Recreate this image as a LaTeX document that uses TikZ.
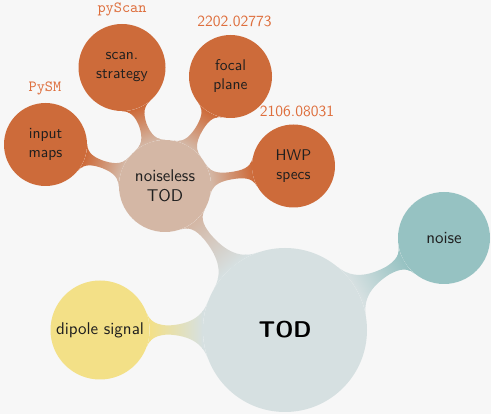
\documentclass[tikz,border=0pt]{standalone}
\usepackage{fontspec}
\setsansfont{lmsans10}[Extension=.otf, UprightFont=*-regular, BoldFont=*-bold]
\setmonofont{lmmono10-regular.otf}
\usetikzlibrary{mindmap}
\definecolor{bg}{HTML}{F7F7F7}
\definecolor{todblue}{HTML}{D6E0E1}
\definecolor{noiseteal}{HTML}{96C2C2}
\definecolor{dipoleyellow}{HTML}{F3E087}
\definecolor{nltan}{HTML}{D4B7A5}
\definecolor{ingorange}{HTML}{CD6B3A}
\definecolor{refcol}{HTML}{DE6E3C}
\tikzset{
  bubble/.style={circle, inner sep=0pt, align=center, text=black!88,
    font=\sffamily\fontsize{17}{20.5}\selectfont},
  rootbubble/.style={bubble, fill=todblue, minimum size=164pt, text=black,
    font=\sffamily\bfseries\fontsize{22.8}{27}\selectfont},
  ingredient/.style={bubble, fill=ingorange, minimum size=83pt,
    font=\sffamily\fontsize{15.5}{19}\selectfont},
  reflabel/.style={anchor=base, inner sep=0pt, text=refcol,
    font=\sffamily\fontsize{15.5}{19}\selectfont},
  codelabel/.style={reflabel, font=\ttfamily\fontsize{15.5}{19}\selectfont},
  thickbar/.style={line width=10pt},
  thinbar/.style={line width=7pt}
}
\begin{document}
\begin{tikzpicture}[x=1pt,y=-1pt]
\useasboundingbox (0,0) rectangle (491,414);
\fill[bg] (0,0) rectangle (491,414);

% main concepts
\node[rootbubble] (tod) at (285,330) {TOD};
\node[bubble, fill=dipoleyellow, minimum size=99pt] (dip) at (100,330) {dipole signal};
\node[bubble, fill=noiseteal, minimum size=92pt] (noise) at (444,238) {noise};
\node[bubble, fill=nltan, minimum size=92pt] (nl) at (165,186) {noiseless\\TOD};

% ingredients of the noiseless TOD
\node[ingredient] (maps) at (45.5,144.5) {input\\maps};
\node[ingredient, minimum size=87pt] (scan) at (122,67.5) {scan.\\strategy};
\node[ingredient] (focal) at (230.5,76.5) {focal\\plane};
\node[ingredient] (hwp) at (293.5,166) {HWP\\specs};

% references
\node[codelabel] (lmaps) at (45,91.5) {PySM};
\node[codelabel] (lscan) at (122,13) {pyScan};
\node[reflabel] (lfocal) at (234.5,27) {2202.02773};
\node[reflabel] (lhwp) at (297,117) {2106.08031};

% connection bars
\path[thickbar] (tod) to[circle connection bar switch color=from (todblue) to (nltan)] (nl);
\path[thickbar] (tod) to[circle connection bar switch color=from (todblue) to (dipoleyellow)] (dip);
\path[thickbar] (tod) to[circle connection bar switch color=from (todblue) to (noiseteal)] (noise);
\path[thinbar] (nl) to[circle connection bar switch color=from (nltan) to (ingorange)] (maps);
\path[thinbar] (nl) to[circle connection bar switch color=from (nltan) to (ingorange)] (scan);
\path[thinbar] (nl) to[circle connection bar switch color=from (nltan) to (ingorange)] (focal);
\path[thinbar] (nl) to[circle connection bar switch color=from (nltan) to (ingorange)] (hwp);
\end{tikzpicture}
\end{document}
